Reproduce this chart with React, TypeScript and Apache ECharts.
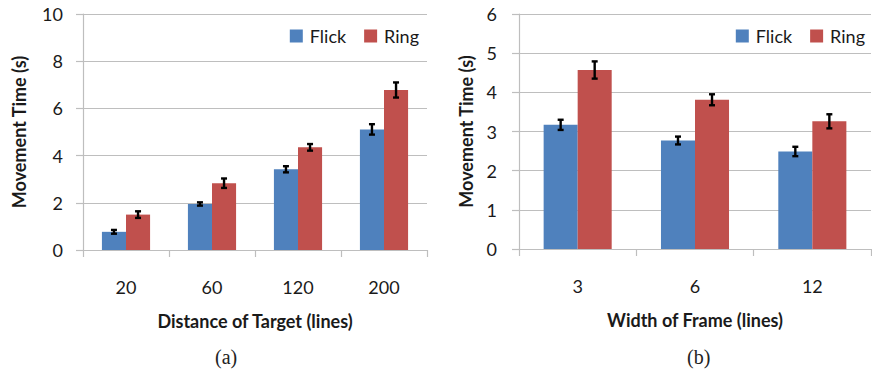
import React, { useEffect, useRef } from "react";
import * as echarts from "echarts";

const leftCategories = ["20", "60", "120", "200"];
const leftFlick = [0.77, 1.95, 3.42, 5.11];
const leftRing = [1.5, 2.83, 4.35, 6.78];
const leftFlickErr = [0.08, 0.07, 0.13, 0.22];
const leftRingErr = [0.14, 0.2, 0.14, 0.32];

const rightCategories = ["3", "6", "12"];
const rightFlick = [3.17, 2.77, 2.49];
const rightRing = [4.57, 3.81, 3.26];
const rightFlickErr = [0.13, 0.1, 0.12];
const rightRingErr = [0.22, 0.14, 0.18];

const leftTicks = { min: 0, max: 10, interval: 2 };
const rightTicks = { min: 0, max: 6, interval: 1 };

const BLUE = "#4F81BD";
const RED = "#C0504D";
const GRID_COLOR = "#BEBEBE";
const FONT = "Lato";

const LEFT_GAP = 0.44;
const RIGHT_GAP = 0.42;

function errRender(side: number, gapFrac: number) {
  return (params: any, api: any) => {
    const idx = api.value(0);
    const v = api.value(1);
    const e = api.value(2);
    const c = api.coord([idx, v]);
    const catW = api.size([1, 0])[0];
    const bw = (catW * (1 - gapFrac)) / 2;
    const x = c[0] + (side * bw) / 2;
    const top = api.coord([idx, v + e])[1];
    const bot = api.coord([idx, v - e])[1];
    const cap = 3;
    const style = { stroke: "#000", lineWidth: 2.4 };
    return {
      type: "group",
      children: [
        { type: "line", shape: { x1: x, y1: top, x2: x, y2: bot }, style },
        { type: "line", shape: { x1: x - cap, y1: top, x2: x + cap, y2: top }, style },
        { type: "line", shape: { x1: x - cap, y1: bot, x2: x + cap, y2: bot }, style },
      ],
    };
  };
}

function errData(values: number[], errs: number[]) {
  return values.map((v, i) => [i, v, errs[i]]);
}

export default function App() {
  const ref = useRef<HTMLDivElement>(null);
  useEffect(() => {
    document.body.style.margin = "0";
    const chart = echarts.init(ref.current!, null, { renderer: "svg" });
    const axisLine = { show: true, lineStyle: { color: GRID_COLOR, width: 1.2 } };
    const axisTick = { show: true, length: 7, lineStyle: { color: GRID_COLOR, width: 1.2 } };
    const splitLine = { show: true, lineStyle: { color: GRID_COLOR, width: 1.2 } };
    const tickLabel = (margin: number) => ({ color: "#1a1a1a", fontSize: 18, fontFamily: FONT, margin });
    const nameStyle = { color: "#1a1a1a", fontSize: 18, fontWeight: "bold" as const, fontFamily: FONT };
    const legendCommon = {
      top: 22,
      itemWidth: 13,
      itemHeight: 13,
      itemGap: 18,
      icon: "rect",
      textStyle: { fontSize: 18, fontFamily: FONT, color: "#1a1a1a", padding: [0, 0, 0, 2] },
      data: ["Flick", "Ring"],
    };
    chart.setOption({
      animation: false,
      color: [BLUE, RED],
      legend: [
        { ...legendCommon, right: 448 },
        { ...legendCommon, right: 2 },
      ],
      grid: [
        { left: 83, top: 14, width: 344, height: 236 },
        { left: 519, top: 14, width: 352, height: 235 },
      ],
      xAxis: [
        {
          type: "category", gridIndex: 0, data: leftCategories,
          axisLine, axisTick, axisLabel: tickLabel(28),
          name: "Distance of Target (lines)", nameLocation: "middle", nameGap: 62, nameTextStyle: nameStyle,
        },
        {
          type: "category", gridIndex: 1, data: rightCategories,
          axisLine, axisTick, axisLabel: tickLabel(28),
          name: "Width of Frame (lines)", nameLocation: "middle", nameGap: 62, nameTextStyle: nameStyle,
        },
      ],
      yAxis: [
        {
          type: "value", gridIndex: 0, ...leftTicks,
          axisLine, axisTick, splitLine, axisLabel: tickLabel(20),
          name: "Movement Time (s)", nameLocation: "middle", nameGap: 55, nameTextStyle: nameStyle,
        },
        {
          type: "value", gridIndex: 1, ...rightTicks,
          axisLine, axisTick, splitLine, axisLabel: tickLabel(22),
          name: "Movement Time (s)", nameLocation: "middle", nameGap: 44, nameTextStyle: nameStyle,
        },
      ],
      graphic: [
        { type: "text", left: 215, top: 347, style: { text: "(a)", font: "20px 'Liberation Serif'", fill: "#222" } },
        { type: "text", left: 687, top: 347, style: { text: "(b)", font: "20px 'Liberation Serif'", fill: "#222" } },
      ],
      series: [
        { type: "bar", name: "Flick", xAxisIndex: 0, yAxisIndex: 0, data: leftFlick, barGap: "0%", barCategoryGap: `${LEFT_GAP * 100}%`, itemStyle: { color: BLUE } },
        { type: "bar", name: "Ring", xAxisIndex: 0, yAxisIndex: 0, data: leftRing, barGap: "0%", barCategoryGap: `${LEFT_GAP * 100}%`, itemStyle: { color: RED } },
        { type: "bar", name: "Flick", xAxisIndex: 1, yAxisIndex: 1, data: rightFlick, barGap: "0%", barCategoryGap: `${RIGHT_GAP * 100}%`, itemStyle: { color: BLUE } },
        { type: "bar", name: "Ring", xAxisIndex: 1, yAxisIndex: 1, data: rightRing, barGap: "0%", barCategoryGap: `${RIGHT_GAP * 100}%`, itemStyle: { color: RED } },
        { type: "custom", xAxisIndex: 0, yAxisIndex: 0, z: 10, renderItem: errRender(-1, LEFT_GAP), data: errData(leftFlick, leftFlickErr), encode: { x: 0, y: 1 } },
        { type: "custom", xAxisIndex: 0, yAxisIndex: 0, z: 10, renderItem: errRender(1, LEFT_GAP), data: errData(leftRing, leftRingErr), encode: { x: 0, y: 1 } },
        { type: "custom", xAxisIndex: 1, yAxisIndex: 1, z: 10, renderItem: errRender(-1, RIGHT_GAP), data: errData(rightFlick, rightFlickErr), encode: { x: 0, y: 1 } },
        { type: "custom", xAxisIndex: 1, yAxisIndex: 1, z: 10, renderItem: errRender(1, RIGHT_GAP), data: errData(rightRing, rightRingErr), encode: { x: 0, y: 1 } },
      ],
    });
    return () => chart.dispose();
  }, []);
  return <div ref={ref} style={{ width: 872, height: 383 }} />;
}
